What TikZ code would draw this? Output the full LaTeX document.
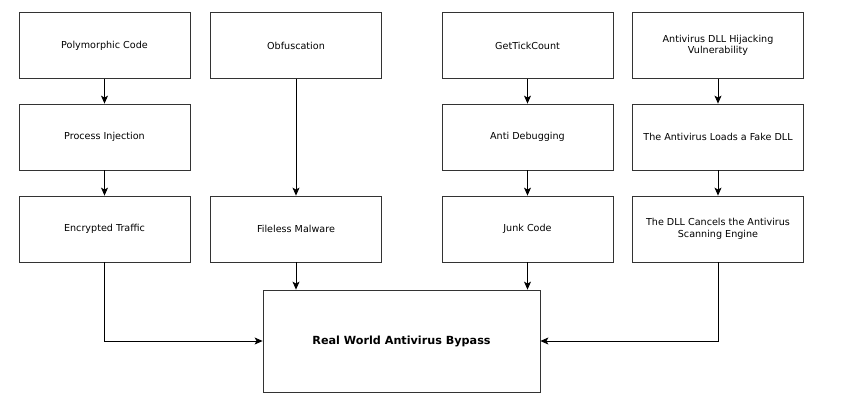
\documentclass[tikz,border=0pt]{standalone}
\usepackage{fontspec}
\setmainfont{DejaVu Sans}
\usetikzlibrary{arrows.meta}
\begin{document}
\begin{tikzpicture}[x=1pt,y=-1pt,
  box/.style={draw=black!80,line width=0.8pt,minimum width=171pt,minimum height=66pt,inner sep=2pt,align=center,font=\fontsize{9.6}{11.5}\selectfont},
  bigbox/.style={draw=black!80,line width=0.8pt,minimum width=277pt,minimum height=102pt,font=\fontsize{11.2}{13}\selectfont\bfseries},
  arr/.style={-{Stealth[length=8pt,width=7pt,inset=2pt]},line width=0.8pt}]
\useasboundingbox[fill=white] (0,0) rectangle (841,400);
\node[box] (pc) at (104.5,45.5) {Polymorphic Code};
\node[box] (pi) at (104.5,137) {Process Injection};
\node[box] (et) at (104.5,229) {Encrypted Traffic};
\node[box] (ob) at (296,45.5) {Obfuscation};
\node[box] (fm) at (296,229) {Fileless Malware};
\node[box] (gt) at (527.5,45.5) {GetTickCount};
\node[box] (ad) at (527.5,137) {Anti Debugging};
\node[box] (jc) at (527.5,229) {Junk Code};
\node[box] (dh) at (718,45.5) {Antivirus DLL Hijacking\\Vulnerability};
\node[box] (fd) at (718,137) {The Antivirus Loads a Fake DLL};
\node[box] (dc) at (718,229) {The DLL Cancels the Antivirus\\Scanning Engine};
\node[bigbox] (rw) at (401.5,341) {Real World Antivirus Bypass};
\draw[arr] (pc) -- (pi);
\draw[arr] (pi) -- (et);
\draw[arr] (ob) -- (fm);
\draw[arr] (gt) -- (ad);
\draw[arr] (ad) -- (jc);
\draw[arr] (dh) -- (fd);
\draw[arr] (fd) -- (dc);
\draw[arr] (fm.south) -- (fm.south |- rw.north);
\draw[arr] (jc.south) -- (jc.south |- rw.north);
\draw[arr] (et.south) |- (rw.west);
\draw[arr] (dc.south) |- (rw.east);
\end{tikzpicture}
\end{document}
